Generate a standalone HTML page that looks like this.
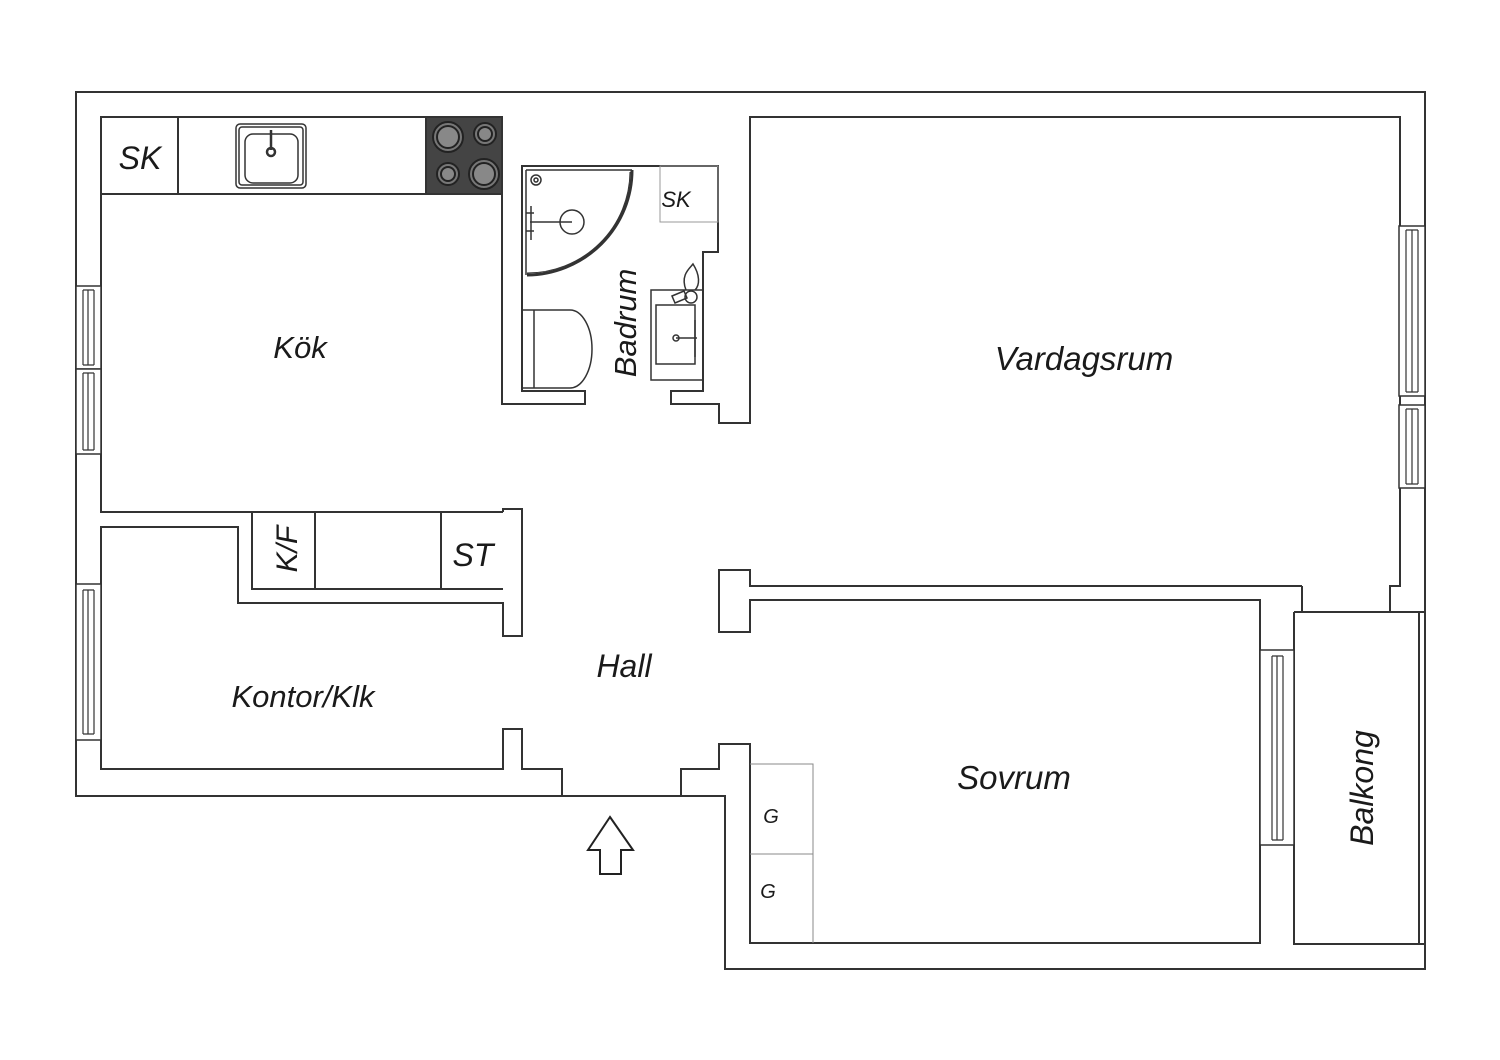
<!DOCTYPE html>
<html><head><meta charset="utf-8"><style>
html,body{margin:0;padding:0;background:#fff;}
svg{display:block;}
text{font-family:"Liberation Sans",sans-serif;font-style:italic;fill:#1a1a1a;}
</style></head><body>
<svg width="1500" height="1060" viewBox="0 0 1500 1060" xmlns="http://www.w3.org/2000/svg">
<rect width="1500" height="1060" fill="#fff"/>
<g fill="none" stroke="#333" stroke-width="2" stroke-linejoin="miter">
<path d="M76,92 H1425 V969 H725 V796 H76 Z"/>
<path d="M503,512 H101 V117 H502 V404 H585 V391 H522 V166 H718 V252 H703 V391 H671 V404 H719 V423 H750 V117 H1400 V586 H1390 V612"/>
<path d="M1302,586 V612 M1294,612 H1425 M1294,612 V944 H1425 M1419,612 V944"/>
<path d="M1302,586 H750 V570 H719 V632 H750 V600 H1260 V943 H750 V744 H719 V769 H681 V796"/>
<path d="M503,512 V509 H522 V636 H503 V603 H238 V527 H101 V769 H503 V729 H522 V769 H562 V796"/>
<!-- kitchen counter -->
<path d="M101,194 H502 M178,117 V194"/>
<!-- K/F counter -->
<path d="M252,512 V589 H503 M315,512 V589 M441,512 V589"/>
</g>
<!-- stove -->
<rect x="426" y="117" width="76" height="77" fill="#444" stroke="#333" stroke-width="2"/>
<g stroke="#222" stroke-width="2" fill="#777">
<circle cx="448" cy="137" r="15"/><circle cx="448" cy="137" r="11" fill="#888"/>
<circle cx="485" cy="134" r="11"/><circle cx="485" cy="134" r="7" fill="#888"/>
<circle cx="448" cy="174" r="11"/><circle cx="448" cy="174" r="7" fill="#888"/>
<circle cx="484" cy="174" r="15"/><circle cx="484" cy="174" r="11" fill="#888"/>
</g>
<!-- sink -->
<g fill="none" stroke="#333" stroke-width="1.5">
<rect x="236" y="124" width="70" height="64" rx="4"/>
<rect x="239" y="127" width="64" height="58" rx="3"/>
<rect x="245" y="134" width="53" height="49" rx="8"/>
<line x1="271" y1="130" x2="271" y2="150" stroke-width="2.5"/>
<circle cx="271" cy="152" r="4" stroke-width="2.5"/>
</g>
<!-- windows -->
<g fill="#fff" stroke="#333" stroke-width="1.5">
<rect x="76" y="286" width="25" height="83"/><rect x="76" y="369" width="25" height="85"/>
<rect x="76" y="584" width="25" height="156"/>
<rect x="1399" y="226" width="26" height="170"/><rect x="1399" y="405" width="26" height="83"/>
<rect x="1260" y="650" width="34" height="195"/>
</g>
<g fill="none" stroke="#333" stroke-width="1.2">
<path d="M83,290 V365 M88,290 V365 M94,290 V365 M83,290 H94 M83,365 H94"/>
<path d="M83,373 V450 M88,373 V450 M94,373 V450 M83,373 H94 M83,450 H94"/>
<path d="M83,590 V734 M88,590 V734 M94,590 V734 M83,590 H94 M83,734 H94"/>
<path d="M1406,230 V392 M1412,230 V392 M1418,230 V392 M1406,230 H1418 M1406,392 H1418"/>
<path d="M1406,409 V484 M1412,409 V484 M1418,409 V484 M1406,409 H1418 M1406,484 H1418"/>
<path d="M1272,656 V840 M1277,656 V840 M1283,656 V840 M1272,656 H1283 M1272,840 H1283"/>
</g>
<!-- bathroom -->
<g fill="none" stroke="#333" stroke-width="1.5">
<rect x="660" y="166" width="58" height="56" stroke="#999" stroke-width="1"/>
<path d="M526,170 H632 M526,170 V275" />
<path d="M632,170 A106,105 0 0 1 527,275" stroke-width="3"/>
<path d="M630,172 A103,102 0 0 1 527,273" stroke-width="1"/>
<circle cx="536" cy="180" r="5"/><circle cx="536" cy="180" r="2"/>
<circle cx="572" cy="222" r="12"/>
<path d="M530,222 H572 M531,206 V240 M526,213 H534 M526,231 H534"/>
<path d="M522,310 H570 A22,39 0 0 1 570,388 H522 M534,310 V388"/>
<rect x="651" y="290" width="52" height="90"/>
<rect x="656" y="305" width="39" height="59"/>
<path d="M676,338 H697 M695,320 V357"/>
<circle cx="676" cy="338" r="3"/>
<circle cx="691" cy="297" r="6"/>
<path d="M686,290 C680,275 690,268 693,264 C700,275 700,285 695,290"/>
<path d="M672,296 L684,291 L687,298 L675,303 Z"/>
</g>
<!-- wardrobes -->
<g fill="none" stroke="#888" stroke-width="1">
<path d="M750,764 H813 V943 M750,854 H813"/>
</g>
<!-- arrow -->
<path d="M610,817 L633,850 L621,850 L621,874 L600,874 L600,850 L588,850 Z" fill="#fff" stroke="#222" stroke-width="2"/>
<!-- labels -->
<text x="140" y="169" font-size="32" text-anchor="middle">SK</text>
<text x="676" y="207" font-size="22" text-anchor="middle" font-family="'DejaVu Sans',sans-serif">SK</text>
<text x="300" y="358" font-size="31" text-anchor="middle">Kök</text>
<text x="1084" y="370" font-size="33" text-anchor="middle">Vardagsrum</text>
<text x="624" y="677" font-size="32" text-anchor="middle">Hall</text>
<text x="303" y="707" font-size="31" text-anchor="middle">Kontor/Klk</text>
<text x="1014" y="789" font-size="33" text-anchor="middle">Sovrum</text>
<text x="473" y="566" font-size="32" text-anchor="middle">ST</text>
<text transform="translate(636,323) rotate(-90)" font-size="31" text-anchor="middle">Badrum</text>
<text transform="translate(1373,788) rotate(-90)" font-size="32" text-anchor="middle">Balkong</text>
<text transform="translate(297,549) rotate(-90)" font-size="30" text-anchor="middle">K/F</text>
<text x="771" y="823" font-size="20" text-anchor="middle">G</text>
<text x="768" y="898" font-size="20" text-anchor="middle">G</text>
</svg>
</body></html>
